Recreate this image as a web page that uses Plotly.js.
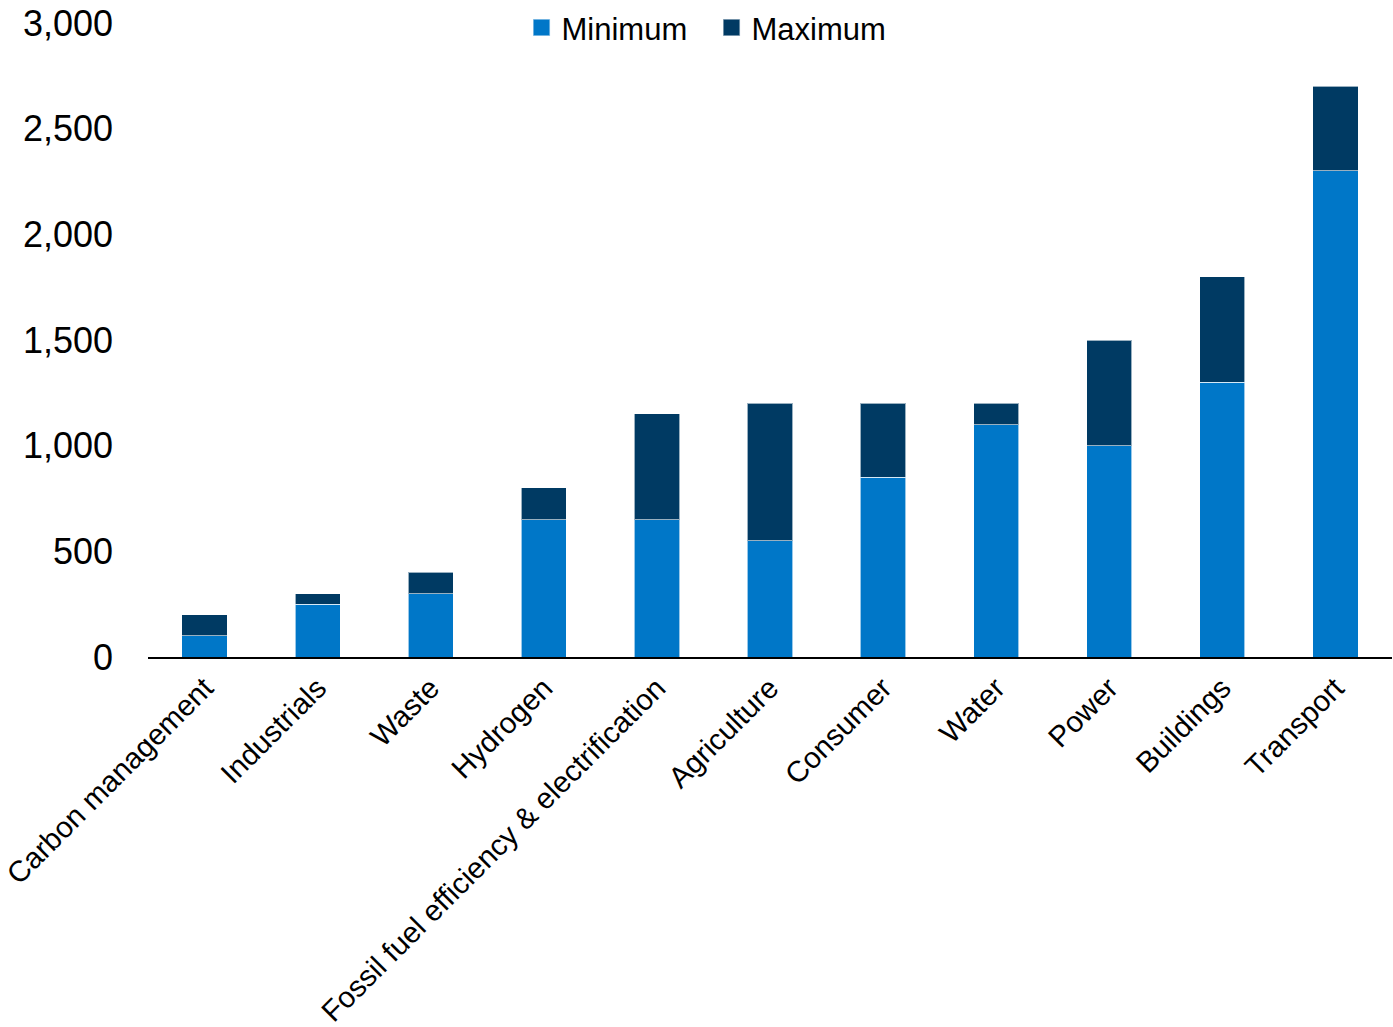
<!DOCTYPE html>
<html>
<head>
<meta charset="utf-8">
<script src="https://cdn.plot.ly/plotly-3.0.1.min.js"></script>
<style>html,body{margin:0;padding:0;background:#fff;}#chart{width:1393px;height:1027px;}</style>
</head>
<body>
<div id="chart"></div>
<script>
const categories = ["Carbon management","Industrials","Waste","Hydrogen","Fossil fuel efficiency & electrification","Agriculture","Consumer","Water","Power","Buildings","Transport"];
const minimumValues = [100, 250, 300, 650, 650, 550, 850, 1100, 1000, 1300, 2300];
const maximumValues = [200, 300, 400, 800, 1150, 1200, 1200, 1200, 1500, 1800, 2700];
const yTickValues = [0, 500, 1000, 1500, 2000, 2500, 3000];
const yTickLabels = ["0", "500", "1,000", "1,500", "2,000", "2,500", "3,000"];

const rangeValues = maximumValues.map((v, i) => v - minimumValues[i]);

const font = "Liberation Sans, Arial, sans-serif";
const traces = [
  {type: "bar", name: "Minimum", x: categories, y: minimumValues,
   marker: {color: "#0077C8", line: {color: "rgba(255,255,255,0.6)", width: 1}},
   hoverinfo: "x+y"},
  {type: "bar", name: "Maximum", x: categories, y: rangeValues,
   customdata: maximumValues,
   marker: {color: "#003A63", line: {color: "rgba(255,255,255,0.6)", width: 1}},
   hovertemplate: "%{x}: %{customdata}<extra></extra>"}
];

const layout = {
  width: 1393, height: 1027,
  margin: {l: 148, r: 1, t: 21, b: 370},
  barmode: "stack",
  bargap: 0.6,
  paper_bgcolor: "#fff", plot_bgcolor: "#fff",
  font: {family: font, color: "#000"},
  showlegend: true,
  legend: {orientation: "h", x: 0.453, xanchor: "center", y: 1.035, yanchor: "top",
           font: {family: font, size: 31, color: "#000"}, itemwidth: 30, bgcolor: "rgba(0,0,0,0)",
           entrywidth: 145, entrywidthmode: "pixels", traceorder: "normal"},
  xaxis: {type: "category", tickangle: -45, showline: true, linecolor: "#000", linewidth: 2,
          ticks: "", showgrid: false, zeroline: false,
          tickfont: {family: font, size: 29.5, color: "#000"}, automargin: false},
  yaxis: {range: [0, 3000], tickvals: yTickValues, ticktext: yTickLabels, showline: false,
          showgrid: false, zeroline: false, ticks: "", ticklabelstandoff: 34,
          tickfont: {family: font, size: 36, color: "#000"}, automargin: false}
};

function enlargeLegendSymbols() {
  document.querySelectorAll("#chart .legendpoints path").forEach(p => {
    if (p.dataset.scaled) return;
    const t = p.getAttribute("transform") || "";
    p.setAttribute("transform", t + " scale(1.42)");
    p.dataset.scaled = "1";
  });
}

Plotly.newPlot("chart", traces, layout, {displayModeBar: false}).then(enlargeLegendSymbols);
</script>
</body>
</html>
